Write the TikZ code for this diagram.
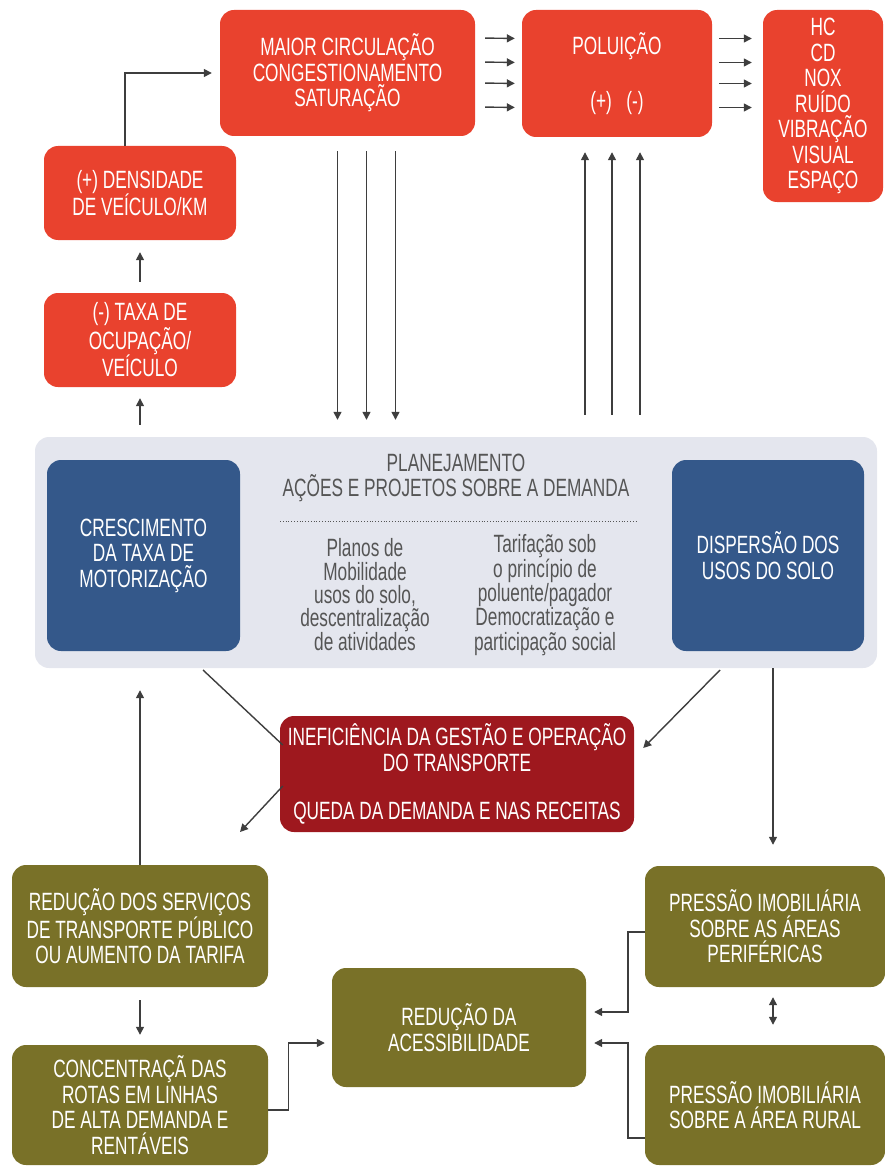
\documentclass[tikz,border=0pt]{standalone}
\usepackage{fontspec}
\setmainfont{Liberation Sans}[FakeStretch=0.69]
\usetikzlibrary{arrows.meta, positioning, calc}

\definecolor{boxred}{RGB}{233,66,46}
\definecolor{boxdarkred}{RGB}{158,24,30}
\definecolor{boxblue}{RGB}{52,88,138}
\definecolor{boxolive}{RGB}{121,113,40}
\definecolor{panelgray}{RGB}{228,230,238}
\definecolor{textgray}{RGB}{85,85,85}
\definecolor{arrgray}{RGB}{62,62,62}

\begin{document}
\begin{tikzpicture}[
    x=1pt, y=-1pt,
    box/.style={rounded corners=14pt, text=white, align=center, inner sep=0pt,
        font=\fontsize{25}{25.5}\selectfont},
    redbox/.style={box, fill=boxred},
    darkbox/.style={box, fill=boxdarkred},
    bluebox/.style={box, fill=boxblue},
    olivebox/.style={box, fill=boxolive},
    paneltext/.style={text=textgray, align=center, inner sep=0pt,
        font=\fontsize{25}{23.2}\selectfont},
    arr/.style={draw=arrgray, line width=1.4pt, -{Triangle[length=8pt,width=8pt]}},
    plain/.style={draw=arrgray, line width=1.4pt}
]

\useasboundingbox (0,0) rectangle (885,1169);

% --- Top row ---
\node[redbox, minimum width=255pt, minimum height=126pt] (circ) at (347.5,73)
    {MAIOR CIRCULAÇÃO\\CONGESTIONAMENTO\\SATURAÇÃO};
\node[redbox, minimum width=190pt, minimum height=127pt] (polu) at (617,73.5)
    {POLUIÇÃO\\[30pt](+)\ \ \ (-)};
\node[redbox, minimum width=120pt, minimum height=192pt] (emis) at (823,106)
    {HC\\CD\\NOX\\RUÍDO\\VIBRAÇÃO\\VISUAL\\ESPAÇO};

% --- Left column ---
\node[redbox, minimum width=192pt, minimum height=94pt] (dens) at (140,193)
    {(+) DENSIDADE\\DE VEÍCULO/KM};
\node[redbox, minimum width=192pt, minimum height=94pt] (taxa) at (140,340)
    {(-) TAXA DE\\OCUPAÇÃO/\\VEÍCULO};

% --- Planning panel ---
\node[fill=panelgray, rounded corners=14pt, minimum width=842pt, minimum height=231pt] (panel) at (456,552.5) {};
\node[bluebox, minimum width=193pt, minimum height=191pt] (cresc) at (143.5,555.5)
    {CRESCIMENTO\\DA TAXA DE\\MOTORIZAÇÃO};
\node[bluebox, minimum width=192pt, minimum height=191pt] (disp) at (768,555.5)
    {DISPERSÃO DOS\\USOS DO SOLO};
\node[paneltext, font=\fontsize{25}{25.5}\selectfont] (plan) at (456,478)
    {PLANEJAMENTO\\AÇÕES E PROJETOS SOBRE A DEMANDA};
\draw[textgray, line width=0.8pt, dotted] (280,521) -- (637,521);
\node[paneltext] (mob) at (365,595)
    {Planos de\\Mobilidade\\usos do solo,\\descentralização\\de atividades};
\node[paneltext] (tar) at (545,595)
    {Tarifação sob\\o princípio de\\poluente/pagador\\Democratização e\\participação social};

% --- Middle ---
\node[darkbox, minimum width=354pt, minimum height=116pt] (inef) at (457,774)
    {INEFICIÊNCIA DA GESTÃO E OPERAÇÃO\\DO TRANSPORTE\\[23pt]QUEDA DA DEMANDA E NAS RECEITAS};

% --- Bottom ---
\node[olivebox, minimum width=256pt, minimum height=122pt] (reds) at (140,926)
    {REDUÇÃO DOS SERVIÇOS\\DE TRANSPORTE PÚBLICO\\OU AUMENTO DA TARIFA};
\node[olivebox, minimum width=256pt, minimum height=120pt] (conc) at (140,1105)
    {CONCENTRAÇÃ DAS\\ROTAS EM LINHAS\\DE ALTA DEMANDA E\\RENTÁVEIS};
\node[olivebox, minimum width=254pt, minimum height=119pt] (acess) at (459,1027.5)
    {REDUÇÃO DA\\ACESSIBILIDADE};
\node[olivebox, minimum width=240pt, minimum height=121pt] (peri) at (765,926.5)
    {PRESSÃO IMOBILIÁRIA\\SOBRE AS ÁREAS\\PERIFÉRICAS};
\node[olivebox, minimum width=240pt, minimum height=120pt] (rural) at (765,1105)
    {PRESSÃO IMOBILIÁRIA\\SOBRE A ÁREA RURAL};

% --- Arrows, top part ---
\draw[arr, shorten >=8pt] ([xshift=-15pt]dens.north) |- (circ.west);
\draw[arr, shorten <=11pt, shorten >=12pt] (taxa.north) -- (dens.south);
\draw[arr, shorten <=12pt, shorten >=11pt] (taxa.south |- panel.north) -- (taxa.south);
\foreach \dy in {35,11,-10,-34} {
    \draw[arr, shorten <=10pt, shorten >=7pt] ([yshift=\dy pt]circ.east) -- ([yshift=\dy pt]polu.west);
    \draw[arr, shorten <=7pt, shorten >=11pt] ([yshift=\dy pt]polu.east) -- ([yshift=\dy pt]polu.east -| emis.west);
}
\foreach \dx in {-10,19,48}
    \draw[arr, shorten <=15pt, shorten >=17pt] ([xshift=\dx pt]circ.south) -- ([xshift=\dx pt]circ.south |- panel.north);
\foreach \dx in {-32,-5,23}
    \draw[arr, shorten <=22pt, shorten >=15pt] ([xshift=\dx pt]polu.south |- panel.north) -- ([xshift=\dx pt]polu.south);

% --- Arrows, lower part ---
\coordinate (pl) at (203,670);
\coordinate (pr) at (720,670);
\coordinate (rl) at (240,832);
\draw[plain] (pl) -- ([yshift=29pt, xshift=3pt]inef.west);
\draw[arr] ([yshift=-12pt, xshift=3pt]inef.west) -- (rl);
\draw[arr] (pr) -- ([yshift=26pt, xshift=9pt]inef.east);
\draw[arr, shorten >=21pt] ([xshift=8pt]peri.north |- panel.south) -- ([xshift=8pt]peri.north);
\draw[arr, shorten >=22pt] (reds.north) -- (reds.north |- panel.south);
\draw[arr, shorten <=13pt, shorten >=10pt] (reds.south) -- (conc.north);
\draw[arr, shorten >=7pt] ([yshift=-5pt]conc.east) -- ++(20,0) |- ([yshift=-15.5pt]acess.west);
\draw[arr, shorten >=8pt] ([yshift=-5.5pt]peri.west) -- ++(-17,0) |- ([yshift=15.5pt]acess.east);
\draw[arr, shorten >=8pt] ([yshift=-33pt]rural.west) -- ++(-17,0) |- ([yshift=-15.5pt]acess.east);
\draw[arr, {Triangle[length=8pt,width=8pt]}-{Triangle[length=8pt,width=8pt]}, shorten <=10pt, shorten >=20pt]
    ([xshift=8pt]peri.south) -- ([xshift=8pt]rural.north);

\end{tikzpicture}
\end{document}
